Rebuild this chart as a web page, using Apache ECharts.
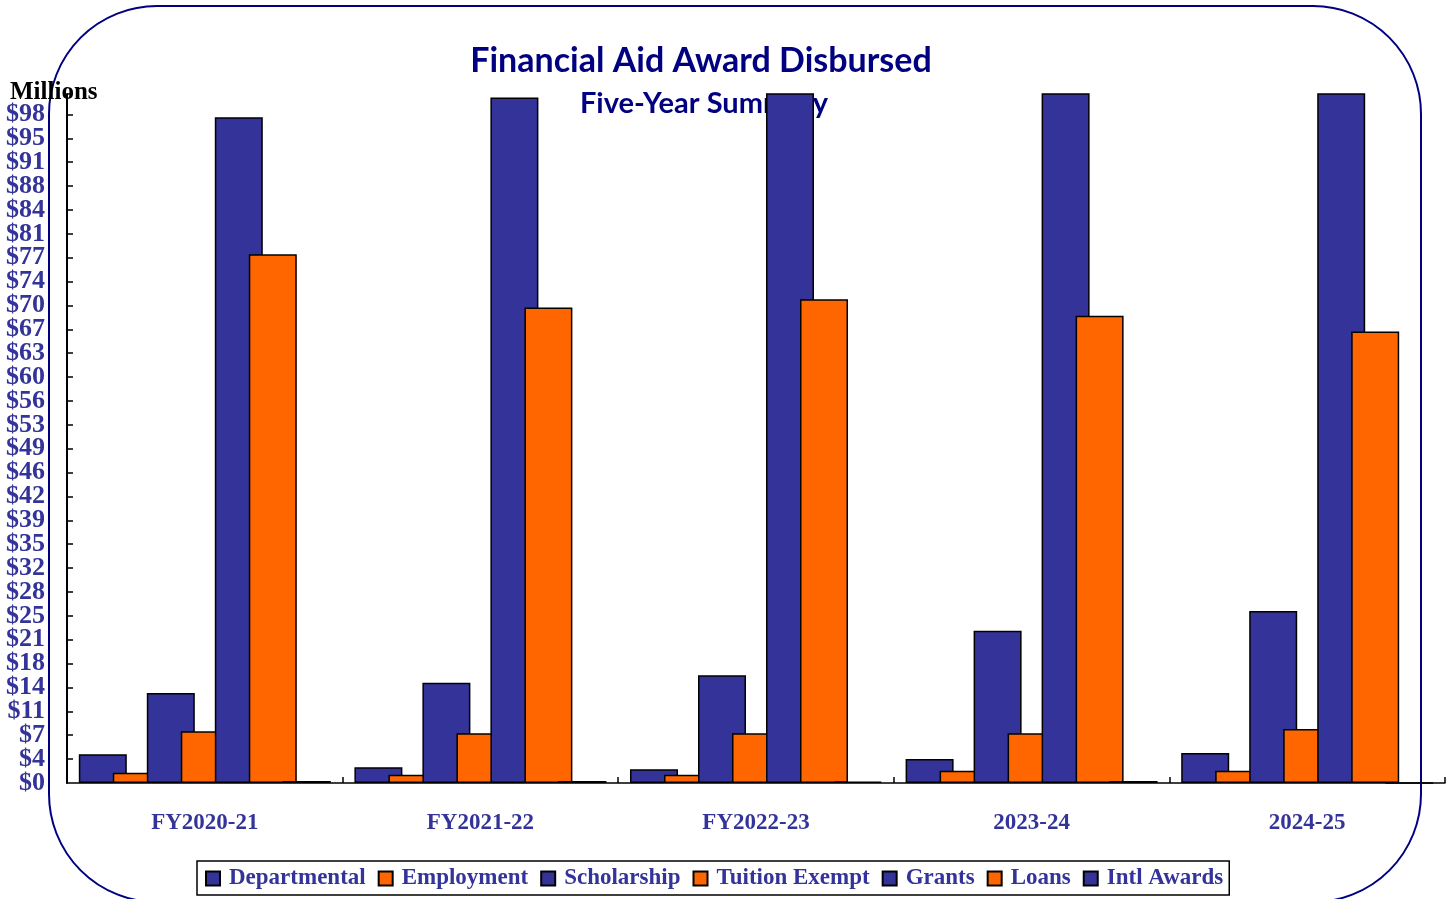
<!DOCTYPE html>
<html>
<head>
<meta charset="utf-8">
<script src="https://cdn.jsdelivr.net/npm/echarts@6/dist/echarts.min.js"></script>
<style>
html,body{margin:0;padding:0;background:#fff;}
#chart{width:1448px;height:899px;}
</style>
</head>
<body>
<div id="chart"></div>
<script>
const categories = ['FY2020-21', 'FY2021-22', 'FY2022-23', '2023-24', '2024-25'];
const departmental = [4.2, 2.3, 2.0, 3.5, 4.4];
const employment = [1.5, 1.2, 1.2, 1.8, 1.8];
const scholarship = [13.2, 14.7, 15.8, 22.3, 25.2];
const tuitionExempt = [7.6, 7.3, 7.3, 7.3, 7.9];
const grants = [97.6, 100.5, 104, 108, 110];
const loans = [77.5, 69.7, 70.9, 68.5, 66.2];
const intlAwards = [0.3, 0.3, 0.2, 0.3, 0];
const yTickLabels = ['$0','$4','$7','$11','$14','$18','$21','$25','$28','$32','$35','$39','$42','$46','$49','$53','$56','$60','$63','$67','$70','$74','$77','$81','$84','$88','$91','$95','$98'];

const BLUE = '#333399';
const ORANGE = '#FF6600';
const seriesDefs = [
  ['Departmental', departmental, BLUE],
  ['Employment', employment, ORANGE],
  ['Scholarship', scholarship, BLUE],
  ['Tuition Exempt', tuitionExempt, ORANGE],
  ['Grants', grants, BLUE],
  ['Loans', loans, ORANGE],
  ['Intl Awards', intlAwards, BLUE]
];

const chart = echarts.init(document.getElementById('chart'));
const serif = "'Liberation Serif', 'Times New Roman', serif";
const yLabelStyle = { color: BLUE, fontFamily: serif, fontWeight: 'bold', fontSize: 26, margin: 22 };
chart.setOption({
  animation: false,
  backgroundColor: '#fff',
  graphic: [
    { type: 'rect', z: 0, shape: { x: 49, y: 6, width: 1372, height: 896, r: 108 },
      style: { fill: 'none', stroke: '#000080', lineWidth: 2 } },
    { type: 'text', z: 0, x: 701, y: 61,
      style: { text: 'Financial Aid Award Disbursed', fill: '#000080', font: "bold 34px Lato, 'Open Sans', sans-serif", textAlign: 'center', textVerticalAlign: 'middle' } },
    { type: 'text', z: 0, x: 704, y: 104,
      style: { text: 'Five-Year Summary', fill: '#000080', font: "bold 29px Lato, 'Open Sans', sans-serif", textAlign: 'center', textVerticalAlign: 'middle' } },
    { type: 'text', z: 0, x: 10, y: 93,
      style: { text: 'Millions', fill: '#000', font: "bold 25px " + serif, textAlign: 'left', textVerticalAlign: 'middle' } }
  ],
  legend: {
    left: 197, top: 861,
    padding: [6, 6, 5, 8],
    itemGap: 12,
    itemWidth: 14, itemHeight: 14,
    icon: 'rect',
    borderColor: '#000', borderWidth: 1.5,
    textStyle: { color: BLUE, fontFamily: serif, fontWeight: 'bold', fontSize: 23, padding: [0, 0, 0, 4] },
    data: seriesDefs.map(d => d[0])
  },
  grid: { left: 67, right: 3, top: 94, bottom: 116, containLabel: false },
  xAxis: {
    type: 'category',
    data: categories,
    boundaryGap: true,
    axisLine: { lineStyle: { color: '#000', width: 1.5 } },
    axisTick: { show: true, inside: true, length: 6, interval: 0, lineStyle: { color: '#000', width: 1.5 } },
    axisLabel: { color: BLUE, fontFamily: serif, fontWeight: 'bold', fontSize: 23, margin: 29, interval: 0 },
    splitLine: { show: false }
  },
  yAxis: [
    {
      type: 'value', position: 'left',
      min: 0, max: 101, interval: 3.5,
      axisLine: { show: true, lineStyle: { color: '#000', width: 2 } },
      axisTick: { show: true, inside: true, length: 6, lineStyle: { color: '#000', width: 1.5 } },
      axisLabel: Object.assign({}, yLabelStyle, { showMinLabel: false,
        formatter: (v, i) => (i > 0 && yTickLabels[i] !== undefined ? yTickLabels[i] : '') }),
      splitLine: { show: false }
    },
    {
      type: 'value', position: 'left', offset: 0,
      min: 0, max: 101, interval: 3.5,
      axisLine: { show: false },
      axisTick: { show: false },
      axisLabel: Object.assign({}, yLabelStyle, { showMinLabel: true,
        formatter: (v, i) => (i === 0 ? yTickLabels[0] : '') }),
      splitLine: { show: false }
    }
  ],
  series: seriesDefs.map(d => ({
    name: d[0],
    type: 'bar',
    data: d[1],
    barWidth: 48,
    barGap: '-29.17%',
    z: 2,
    itemStyle: { color: d[2], borderColor: '#000', borderWidth: 1.5 }
  }))
});
</script>
</body>
</html>
